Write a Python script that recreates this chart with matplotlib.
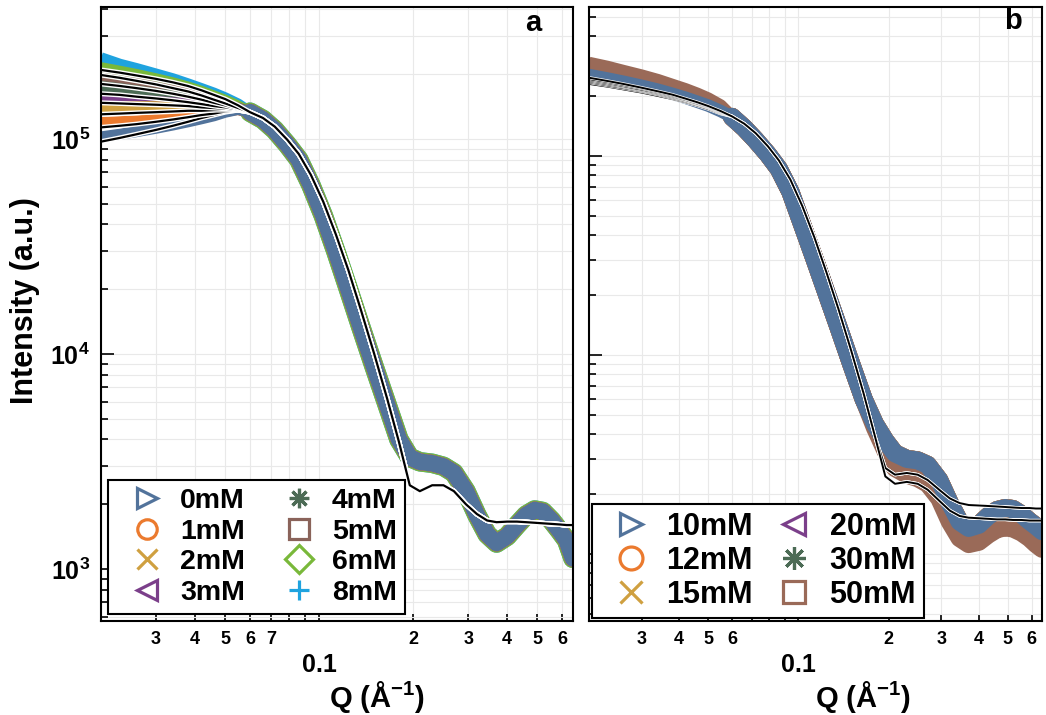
import math
import matplotlib
matplotlib.use("Agg")
import matplotlib.pyplot as plt
import matplotlib.patheffects as pe
from matplotlib.lines import Line2D
from matplotlib.ticker import FuncFormatter, NullFormatter, LogLocator

plt.rcParams['font.family'] = ['Liberation Sans', 'DejaVu Sans']
plt.rcParams['font.weight'] = 'bold'
plt.rcParams['mathtext.fontset'] = 'custom'
plt.rcParams['mathtext.rm'] = 'Liberation Sans:bold'
plt.rcParams['mathtext.bf'] = 'Liberation Sans:bold'
plt.rcParams['mathtext.it'] = 'Liberation Sans:bold'

# ---- data (Q in 1/A, intensity in a.u.) ----
q = [0.020, 0.023, 0.026, 0.030, 0.034, 0.038, 0.042, 0.046, 0.050, 0.055,
     0.060, 0.066, 0.072, 0.079, 0.086, 0.094, 0.103, 0.113, 0.124, 0.136,
     0.150, 0.165, 0.180, 0.195, 0.210, 0.230, 0.250, 0.270, 0.295, 0.320,
     0.345, 0.370, 0.400, 0.430, 0.460, 0.490, 0.520, 0.555, 0.590, 0.620, 0.650]
n_head = 10

# panel a: low-q part differs per concentration, high-q part is common
labels_a = ['0mM', '1mM', '2mM', '3mM', '4mM', '5mM', '6mM', '8mM']
head_a = {
    '0mM': [1.02e5, 1.05e5, 1.08e5, 1.12e5, 1.16e5, 1.20e5, 1.24e5, 1.28e5, 1.33e5, 1.37e5],
    '1mM': [1.19e5, 1.20e5, 1.21e5, 1.23e5, 1.25e5, 1.27e5, 1.29e5, 1.31e5, 1.34e5, 1.37e5],
    '2mM': [1.41e5, 1.41e5, 1.41e5, 1.41e5, 1.40e5, 1.40e5, 1.40e5, 1.39e5, 1.38e5, 1.37e5],
    '3mM': [1.55e5, 1.53e5, 1.51e5, 1.49e5, 1.47e5, 1.45e5, 1.43e5, 1.41e5, 1.39e5, 1.37e5],
    '4mM': [1.75e5, 1.71e5, 1.67e5, 1.62e5, 1.58e5, 1.54e5, 1.50e5, 1.46e5, 1.42e5, 1.38e5],
    '5mM': [1.92e5, 1.86e5, 1.81e5, 1.74e5, 1.68e5, 1.62e5, 1.56e5, 1.50e5, 1.45e5, 1.39e5],
    '6mM': [2.14e5, 2.06e5, 1.99e5, 1.90e5, 1.82e5, 1.74e5, 1.66e5, 1.58e5, 1.51e5, 1.42e5],
    '8mM': [2.38e5, 2.22e5, 2.12e5, 2.00e5, 1.90e5, 1.80e5, 1.71e5, 1.63e5, 1.55e5, 1.45e5],
}
tail_a = [1.33e5, 1.23e5, 1.10e5, 9.4e4, 8.0e4, 6.1e4, 4.4e4, 3.0e4, 2.0e4, 1.33e4,
          8.7e3, 5.8e3, 4.0e3, 3.3e3, 3.15e3, 3.1e3, 3.0e3, 2.8e3, 2.3e3, 1.78e3,
          1.45e3, 1.32e3, 1.42e3, 1.60e3, 1.78e3, 1.88e3, 1.85e3, 1.68e3, 1.50e3, 1.36e3, 1.12e3]
fit_head_a = {
    '0mM': [0.97e5, 1.01e5, 1.05e5, 1.10e5, 1.15e5, 1.20e5, 1.25e5, 1.29e5, 1.33e5, 1.36e5],
    '1mM': [1.13e5, 1.15e5, 1.17e5, 1.20e5, 1.23e5, 1.26e5, 1.29e5, 1.31e5, 1.34e5, 1.36e5],
    '2mM': [1.30e5, 1.31e5, 1.32e5, 1.33e5, 1.34e5, 1.35e5, 1.35e5, 1.36e5, 1.36e5, 1.36e5],
    '3mM': [1.47e5, 1.46e5, 1.45e5, 1.44e5, 1.43e5, 1.42e5, 1.40e5, 1.39e5, 1.38e5, 1.36e5],
    '4mM': [1.62e5, 1.60e5, 1.57e5, 1.54e5, 1.51e5, 1.48e5, 1.45e5, 1.42e5, 1.40e5, 1.37e5],
    '5mM': [1.80e5, 1.76e5, 1.72e5, 1.67e5, 1.62e5, 1.57e5, 1.52e5, 1.47e5, 1.43e5, 1.38e5],
    '6mM': [1.98e5, 1.92e5, 1.86e5, 1.79e5, 1.72e5, 1.66e5, 1.59e5, 1.52e5, 1.46e5, 1.39e5],
    '8mM': [2.09e5, 2.03e5, 1.97e5, 1.90e5, 1.83e5, 1.76e5, 1.68e5, 1.60e5, 1.53e5, 1.43e5],
}
fit_tail_a = [1.33e5, 1.25e5, 1.14e5, 9.9e4, 8.5e4, 6.8e4, 5.1e4, 3.6e4, 2.45e4, 1.6e4,
              1.0e4, 6.2e3, 3.9e3, 2.45e3, 2.3e3, 2.45e3, 2.45e3, 2.3e3, 2.0e3, 1.8e3,
              1.68e3, 1.65e3, 1.66e3, 1.66e3, 1.65e3, 1.64e3, 1.63e3, 1.62e3, 1.61e3, 1.60e3, 1.60e3]

# panel b
labels_b = ['10mM', '12mM', '15mM', '20mM', '30mM', '50mM']
head_b = {
    '10mM': [2.55e5, 2.45e5, 2.36e5, 2.25e5, 2.15e5, 2.05e5, 1.96e5, 1.87e5, 1.79e5, 1.68e5],
    '12mM': [2.62e5, 2.52e5, 2.42e5, 2.31e5, 2.20e5, 2.10e5, 2.00e5, 1.91e5, 1.82e5, 1.70e5],
    '15mM': [2.68e5, 2.57e5, 2.47e5, 2.35e5, 2.24e5, 2.13e5, 2.03e5, 1.94e5, 1.85e5, 1.72e5],
    '20mM': [2.74e5, 2.63e5, 2.52e5, 2.40e5, 2.28e5, 2.17e5, 2.07e5, 1.97e5, 1.87e5, 1.74e5],
    '30mM': [2.82e5, 2.70e5, 2.58e5, 2.45e5, 2.33e5, 2.21e5, 2.10e5, 2.00e5, 1.90e5, 1.76e5],
    '50mM': [2.93e5, 2.80e5, 2.67e5, 2.53e5, 2.40e5, 2.27e5, 2.16e5, 2.05e5, 1.94e5, 1.79e5],
}
tail_b = [1.57e5, 1.38e5, 1.20e5, 1.02e5, 8.6e4, 6.6e4, 4.5e4, 3.05e4, 2.05e4, 1.38e4,
          9.0e3, 6.0e3, 4.5e3, 3.7e3, 3.2e3, 3.0e3, 2.95e3, 2.8e3, 2.35e3, 1.8e3,
          1.45e3, 1.35e3, 1.40e3, 1.55e3, 1.66e3, 1.70e3, 1.68e3, 1.58e3, 1.46e3, 1.38e3, 1.30e3]
tail_b_50 = [1.57e5, 1.38e5, 1.20e5, 1.02e5, 8.6e4, 6.6e4, 4.5e4, 3.05e4, 2.05e4, 1.38e4,
             9.0e3, 6.0e3, 4.3e3, 3.3e3, 2.7e3, 2.5e3, 2.4e3, 2.25e3, 1.9e3, 1.45e3,
             1.2e3, 1.12e3, 1.15e3, 1.25e3, 1.33e3, 1.36e3, 1.34e3, 1.28e3, 1.20e3, 1.12e3, 1.06e3]
fit_head_b = {
    '10mM': [2.30e5, 2.23e5, 2.16e5, 2.08e5, 2.00e5, 1.93e5, 1.86e5, 1.79e5, 1.72e5, 1.63e5],
    '12mM': [2.34e5, 2.26e5, 2.19e5, 2.11e5, 2.03e5, 1.95e5, 1.88e5, 1.81e5, 1.74e5, 1.64e5],
    '15mM': [2.37e5, 2.29e5, 2.22e5, 2.13e5, 2.05e5, 1.97e5, 1.90e5, 1.82e5, 1.75e5, 1.65e5],
    '20mM': [2.40e5, 2.32e5, 2.24e5, 2.15e5, 2.07e5, 1.99e5, 1.91e5, 1.83e5, 1.76e5, 1.66e5],
    '30mM': [2.43e5, 2.35e5, 2.27e5, 2.18e5, 2.09e5, 2.01e5, 1.93e5, 1.85e5, 1.77e5, 1.67e5],
    '50mM': [2.47e5, 2.38e5, 2.30e5, 2.20e5, 2.11e5, 2.03e5, 1.94e5, 1.86e5, 1.78e5, 1.68e5],
}
fit_tail_b_hi = [1.58e5, 1.45e5, 1.30e5, 1.12e5, 9.5e4, 7.6e4, 5.6e4, 3.9e4, 2.6e4, 1.7e4,
                 1.05e4, 6.4e3, 3.9e3, 2.7e3, 2.5e3, 2.55e3, 2.5e3, 2.35e3, 2.1e3, 1.9e3,
                 1.8e3, 1.76e3, 1.75e3, 1.74e3, 1.73e3, 1.72e3, 1.71e3, 1.70e3, 1.70e3, 1.69e3, 1.69e3]
fit_tail_b_lo = [1.58e5, 1.45e5, 1.30e5, 1.12e5, 9.5e4, 7.6e4, 5.6e4, 3.9e4, 2.6e4, 1.7e4,
                 1.05e4, 6.4e3, 3.9e3, 2.45e3, 2.25e3, 2.3e3, 2.25e3, 2.1e3, 1.85e3, 1.65e3,
                 1.55e3, 1.52e3, 1.51e3, 1.50e3, 1.49e3, 1.49e3, 1.48e3, 1.48e3, 1.47e3, 1.47e3, 1.47e3]

# ---- styles ----
colors_a = {'0mM': '#52739b', '1mM': '#eb7a2e', '2mM': '#cfa040', '3mM': '#7b3f8a',
            '4mM': '#4c6b55', '5mM': '#8a635a', '6mM': '#79b83a', '8mM': '#1fa3df'}
markers_a = {'0mM': '>', '1mM': 'o', '2mM': 'x', '3mM': '<',
             '4mM': (8, 2, 0), '5mM': 's', '6mM': 'D', '8mM': '+'}
colors_b = {'10mM': '#52739b', '12mM': '#eb7a2e', '15mM': '#cfa040',
            '20mM': '#7b3f8a', '30mM': '#4c6b55', '50mM': '#9a6a58'}
markers_b = {'10mM': '>', '12mM': 'o', '15mM': 'x', '20mM': '<', '30mM': (8, 2, 0), '50mM': 's'}


def fit_fx(w):
    return [pe.Stroke(linewidth=w, foreground='white'), pe.Normal()]


def band(ax, y, color, lw_head, lw_tail):
    # low-q part is a narrow band, noisy high-q part is wider
    ax.plot(q[:n_head + 1], y[:n_head + 1], color=color, lw=lw_head,
            solid_capstyle='butt', solid_joinstyle='round')
    ax.plot(q[n_head:], y[n_head:], color=color, lw=lw_tail,
            solid_capstyle='round', solid_joinstyle='round')


fig = plt.figure(figsize=(10.46, 7.15), dpi=100)
ax_a = fig.add_axes([0.0966, 0.1315, 0.4512, 0.8587])
ax_b = fig.add_axes([0.5631, 0.1315, 0.4331, 0.8587])

# panel a data (drawn from high to low concentration so 0mM lies on top)
for lab in labels_a[::-1]:
    wide = lab in ('6mM', '8mM')
    band(ax_a, head_a[lab] + tail_a, colors_a[lab], 8, 14 if wide else 12)
for lab in labels_a:
    ax_a.plot(q, fit_head_a[lab] + fit_tail_a, color='black', lw=1.6, path_effects=fit_fx(3.6))

# panel b data: 10mM on top, 50mM next
for lab in ['30mM', '20mM', '15mM', '12mM', '50mM', '10mM']:
    tail = tail_b_50 if lab == '50mM' else tail_b
    band(ax_b, head_b[lab] + tail, colors_b[lab], 9, 13)
for i, lab in enumerate(labels_b):
    tail = fit_tail_b_hi if i % 2 == 0 else fit_tail_b_lo
    ax_b.plot(q, fit_head_b[lab] + tail, color='black', lw=1.4, path_effects=fit_fx(2.4))

# ---- axes styling ----
labeled_a = [0.03, 0.04, 0.05, 0.06, 0.07, 0.2, 0.3, 0.4, 0.5, 0.6]
labeled_b = [0.03, 0.04, 0.05, 0.06, 0.2, 0.3, 0.4, 0.5, 0.6]


def minor_fmt(shown):
    def f(x, pos):
        for s in shown:
            if abs(x - s) < 1e-6:
                return '%d' % round(s * (100 if s < 0.1 else 10))
        return ''
    return FuncFormatter(f)


for ax, shown, ylim in ((ax_a, labeled_a, (573, 4.1e5)), (ax_b, labeled_b, (460, 5.6e5))):
    ax.set_xscale('log')
    ax.set_yscale('log')
    ax.set_xlim(0.02, 0.65)
    ax.set_ylim(*ylim)
    ax.xaxis.set_major_locator(LogLocator(base=10))
    ax.xaxis.set_minor_locator(LogLocator(base=10, subs=range(2, 10)))
    ax.xaxis.set_major_formatter(FuncFormatter(lambda x, p: '%g' % x))
    ax.xaxis.set_minor_formatter(minor_fmt(shown))
    ax.yaxis.set_minor_locator(LogLocator(base=10, subs=range(2, 10)))
    ax.yaxis.set_minor_formatter(NullFormatter())
    ax.yaxis.set_major_formatter(FuncFormatter(lambda y, p: r'$10^{%d}$' % round(math.log10(y))))
    ax.grid(True, which='both', color='#e9e9e9', lw=0.8)
    ax.set_axisbelow(True)
    ax.tick_params(which='both', direction='in', color='black', width=1.2)
    ax.tick_params(which='major', length=9)
    ax.tick_params(which='minor', length=5)
    ax.tick_params(axis='x', which='minor', labelsize=13, pad=7)
    ax.tick_params(axis='x', which='major', labelsize=18, pad=23)
    ax.tick_params(axis='y', which='major', labelsize=18, pad=8)
    for sp in ax.spines.values():
        sp.set_linewidth(1.5)

ax_b.tick_params(axis='y', which='both', labelleft=False)

fig.text(0.024, 0.58, 'Intensity (a.u.)', rotation=90, ha='center', va='center', fontsize=22, fontweight='bold')
fig.text(0.360, 0.025, r'Q (Å$^{-1}$)', ha='center', va='center', fontsize=21, fontweight='bold')
fig.text(0.825, 0.025, r'Q (Å$^{-1}$)', ha='center', va='center', fontsize=21, fontweight='bold')
ax_a.text(0.915, 0.997, 'a', transform=ax_a.transAxes, ha='center', va='top', fontsize=21, fontweight='bold')
ax_b.text(0.935, 1.0, 'b', transform=ax_b.transAxes, ha='center', va='top', fontsize=21, fontweight='bold')


# legends
def handle(c, m, ms):
    return Line2D([], [], ls='none', marker=m, color=c, mfc='none', mec=c, mew=2.3, ms=ms)


hand_a = [handle(colors_a[l], markers_a[l], 14) for l in labels_a]
leg_a = ax_a.legend(hand_a, labels_a, loc='lower left', ncol=2, fontsize=20.5,
                    handlelength=2.2, handletextpad=0.05, borderpad=0.28,
                    columnspacing=0.8, labelspacing=0.16, borderaxespad=0.25,
                    fancybox=False, framealpha=1, edgecolor='black')
leg_a.get_frame().set_linewidth(1.5)

hand_b = [handle(colors_b[l], markers_b[l], 16.5) for l in labels_b]
leg_b = ax_b.legend(hand_b, labels_b, loc='lower left', ncol=2, fontsize=22,
                    handlelength=2.0, handletextpad=0.16, borderpad=0.26,
                    columnspacing=0.36, labelspacing=0.13, borderaxespad=0.1,
                    fancybox=False, framealpha=1, edgecolor='black')
leg_b.get_frame().set_linewidth(1.5)

fig.savefig('out.png', dpi=100)
